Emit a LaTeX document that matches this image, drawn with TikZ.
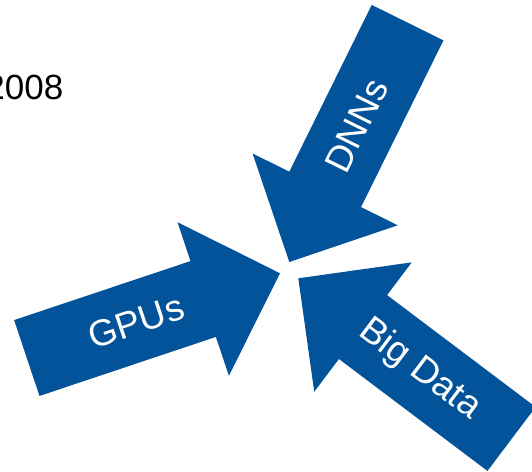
\documentclass[tikz,border=0pt]{standalone}
\usepackage{fontspec}
\setmainfont{Liberation Sans}
\definecolor{arrowblue}{RGB}{3,83,155}
\tikzset{
  fatarrow/.style={fill=arrowblue, draw=none},
  arrowtext/.style={text=white, inner sep=0pt, font=\fontsize{37}{44}\selectfont},
  yeartext/.style={text=black, inner sep=0pt, font=\fontsize{35}{42}\selectfont}
}
% broad block arrow pointing along +x with its tip at the origin
\newcommand\blockarrow{(0,0) -- (-81,81) -- (-81,40) -- (-267,40) -- (-267,-40) -- (-81,-40) -- (-81,-81) -- cycle}
\begin{document}
\begin{tikzpicture}[x=1pt,y=1pt]
\useasboundingbox (0,0) rectangle (532,471);
\clip (0,0) rectangle (532,471);

\node[yeartext, anchor=base east] (year) at (63.5,371) {2008};

% DNNs arrow, from the top right
\begin{scope}[shift={(289.3,209)}, rotate=243.7]
  \fill[fatarrow] \blockarrow;
  \coordinate (dnnsc) at (-152,0);
\end{scope}
\node[arrowtext, rotate=63.7] (dnns) at (dnnsc) {DNNs};

% GPUs arrow, from the left
\begin{scope}[shift={(280,197.7)}, rotate=18.5]
  \fill[fatarrow] \blockarrow;
  \coordinate (gpusc) at (-152,0);
\end{scope}
\node[arrowtext, rotate=18.5] (gpus) at (gpusc) {GPUs};

% Big Data arrow, from the bottom right
\begin{scope}[shift={(298.3,192.7)}, rotate=143]
  \fill[fatarrow] \blockarrow;
  \coordinate (bigc) at (-152,0);
\end{scope}
\node[arrowtext, rotate=-37] (bigdata) at (bigc) {Big Data};
\end{tikzpicture}
\end{document}
